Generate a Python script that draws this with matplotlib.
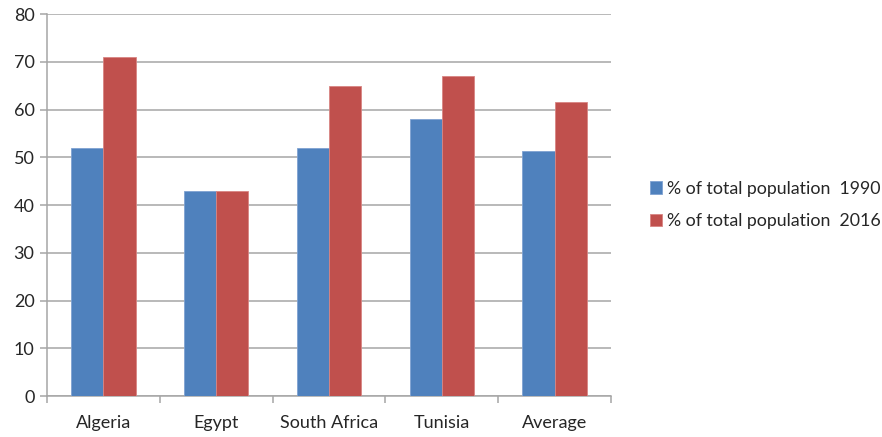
import matplotlib.pyplot as plt
import numpy as np

# Urban population share by country
pays = ['Algeria', 'Egypt', 'South Africa', 'Tunisia', 'Average']
pop_1990 = [52, 43, 52, 58, 51.25]
pop_2016 = [71, 43, 65, 67, 61.5]
etiquettes = ['% of total population  1990', '% of total population  2016']

plt.rcParams['font.family'] = ['Lato', 'DejaVu Sans']
gris = '#a6a6a6'
texte = '#262626'

fig = plt.figure(figsize=(8.82, 4.37), dpi=100)
ax = fig.add_axes([0.0533, 0.0938, 0.6395, 0.874])

x = np.arange(len(pays))
largeur = 0.285
ax.bar(x - largeur / 2, pop_1990, largeur, color='#4f81bd', edgecolor='#7fa2d2',
       linewidth=0.6, label=etiquettes[0], zorder=3)
ax.bar(x + largeur / 2, pop_2016, largeur, color='#c0504d', edgecolor='#d88583',
       linewidth=0.6, label=etiquettes[1], zorder=3)

ax.set_xlim(-0.5, len(pays) - 0.5)
ax.set_ylim(0, 80)
ax.set_yticks(np.arange(0, 81, 10))
ax.set_xticks(x)
ax.set_xticklabels(pays)
ax.set_xticks(np.arange(-0.5, len(pays), 1), minor=True)

ax.yaxis.grid(True, color=gris, linewidth=1.1, zorder=0)
ax.set_axisbelow(True)
for cote in ['top', 'right']:
    ax.spines[cote].set_visible(False)
for cote in ['left', 'bottom']:
    ax.spines[cote].set_color(gris)
    ax.spines[cote].set_linewidth(1.1)

ax.tick_params(axis='y', length=5, color=gris, width=1.1, labelsize=13,
               labelcolor=texte, pad=4)
ax.tick_params(axis='x', which='major', length=0, labelsize=13,
               labelcolor=texte, pad=14)
ax.tick_params(axis='x', which='minor', length=5, color=gris, width=1.1)

leg = ax.legend(loc='center left', bbox_to_anchor=(1.04, 0.5), frameon=False,
                fontsize=12.8, handlelength=0.7, handleheight=0.7,
                handletextpad=0.3, labelspacing=0.95)
for t in leg.get_texts():
    t.set_color(texte)

plt.savefig('out.png', dpi=100)
